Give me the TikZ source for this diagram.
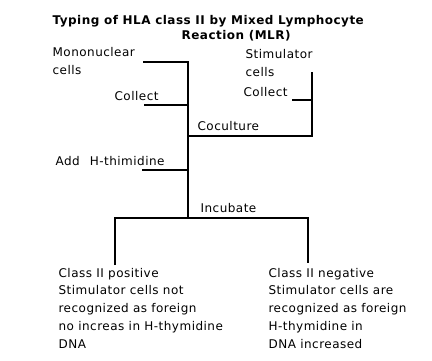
\documentclass[tikz,border=0pt]{standalone}
\usepackage{fontspec}
\setmainfont{DejaVu Sans}[LetterSpace=4]
\usetikzlibrary{positioning}

\begin{document}
\begin{tikzpicture}[x=1pt,y=-1pt,line width=1.2pt,
    lbl/.style={inner sep=0pt,anchor=base west,align=left,
                font=\fontsize{12}{17.7}\selectfont},
    ttl/.style={lbl,font=\fontsize{12}{15}\selectfont\bfseries}]
    \useasboundingbox (0,0) rectangle (432,360);

    % heading
    \node[ttl] (title1) at (52,24.5) {Typing of HLA class II by Mixed Lymphocyte};
    \node[ttl] (title2) at (181,39.5) {Reaction (MLR)};

    % inputs (base = last line)
    \node[lbl] (mono) at (52,74) {Mononuclear\\cells};
    \node[lbl] (stim) at (245,76) {Stimulator\\cells};
    \node[lbl] (collectL) at (114,100) {Collect};
    \node[lbl] (collectR) at (243,96.5) {Collect};
    \node[lbl] (cocult) at (197,130) {Coculture};
    \node[lbl] (add) at (55,165) {Add\hspace{10pt}H-thimidine};
    \node[lbl] (incub) at (200,212) {Incubate};

    % outcomes
    \node[lbl] (pos) at (58,348) {Class II positive\\Stimulator cells not\\recognized as foreign\\no increas in H-thymidine\\DNA};
    \node[lbl] (neg) at (268,348) {Class II negative\\Stimulator cells are\\recognized as foreign\\H-thymidine in\\DNA increased};

    % bracket points
    \coordinate (monoEnd) at (143,62);
    \coordinate (monoTop) at (188,62);
    \coordinate (collectLEnd) at (144,105);
    \coordinate (collectLJoin) at (188,105);
    \coordinate (stimTop) at (312,72);
    \coordinate (stimBot) at (312,136);
    \coordinate (cocultJoin) at (188,136);
    \coordinate (collectREnd) at (292,100);
    \coordinate (collectRJoin) at (312,100);
    \coordinate (addEnd) at (142,170);
    \coordinate (addJoin) at (188,170);
    \coordinate (incubJoin) at (188,218);
    \coordinate (posTop) at (115,218);
    \coordinate (posEnd) at (115,265);
    \coordinate (negTop) at (308,218);
    \coordinate (negEnd) at (308,263);

    \draw (monoEnd) -- (monoTop) -- (incubJoin);
    \draw (collectLEnd) -- (collectLJoin);
    \draw (stimTop) -- (stimBot) -- (cocultJoin);
    \draw (collectREnd) -- (collectRJoin);
    \draw (addEnd) -- (addJoin);
    \draw (posEnd) -- (posTop) -- (negTop) -- (negEnd);
\end{tikzpicture}
\end{document}
